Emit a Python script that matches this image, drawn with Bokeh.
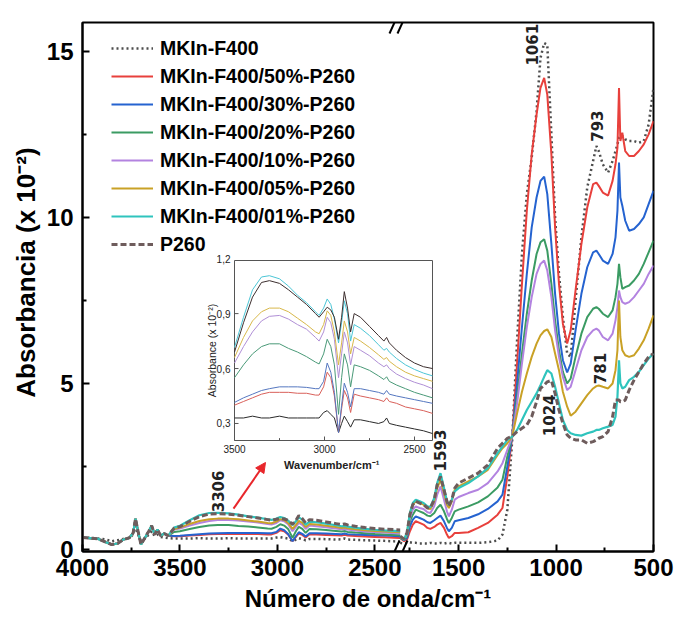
import numpy as np
from bokeh.plotting import figure
from bokeh.models import (Range1d, FixedTicker, Legend, LegendItem, Arrow,
                          NormalHead, ColumnDataSource)
from bokeh.core.properties import value
from bokeh.embed import file_html
from bokeh.resources import INLINE

# ---------------- data ----------------
series_names = ["MKIn-F400", "MKIn-F400/50%-P260", "MKIn-F400/30%-P260",
                "MKIn-F400/20%-P260", "MKIn-F400/10%-P260", "MKIn-F400/05%-P260",
                "MKIn-F400/01%-P260", "P260"]

# left segment (4000 -> 2370 cm-1)
wl = [4000, 3960, 3920, 3880, 3850, 3820, 3790, 3760, 3740, 3728, 3715, 3700, 3680,
      3660, 3645, 3630, 3615, 3600, 3580, 3560,
      3530, 3500, 3450, 3400, 3350, 3306, 3250, 3200, 3150, 3100, 3050, 3030, 3005,
      2985, 2965, 2945, 2922, 2905, 2890, 2872, 2855, 2835, 2800, 2750, 2700, 2670,
      2655, 2640, 2600, 2550, 2500, 2450, 2400, 2370]

head_f400 = [0.36, 0.35, 0.33, 0.30, 0.25, 0.28, 0.32, 0.35, 0.45, 0.70, 0.45, 0.25,
             0.33, 0.45, 0.55, 0.40, 0.45, 0.38, 0.36, 0.34]
head_mix = [0.36, 0.34, 0.32, 0.22, 0.15, 0.18, 0.30, 0.35, 0.50, 0.93, 0.55, 0.15,
            0.35, 0.55, 0.72, 0.45, 0.60, 0.42, 0.48, 0.42]

tail_f400 = [0.33, 0.33, 0.33, 0.34, 0.33, 0.33, 0.34, 0.33, 0.33, 0.33, 0.33, 0.33,
             0.36, 0.37, 0.35, 0.33, 0.25, 0.30, 0.34, 0.31, 0.28, 0.32, 0.32, 0.31,
             0.30, 0.31, 0.33, 0.30, 0.29, 0.28, 0.27, 0.26, 0.245, 0.23]
tail_50 = [0.40, 0.40, 0.42, 0.44, 0.46, 0.47, 0.47, 0.47, 0.465, 0.465, 0.455, 0.455,
           0.50, 0.58, 0.55, 0.45, 0.25, 0.38, 0.48, 0.44, 0.36, 0.46, 0.45, 0.44,
           0.43, 0.42, 0.44, 0.42, 0.41, 0.39, 0.38, 0.37, 0.355, 0.35]
tail_30 = [0.41, 0.415, 0.44, 0.46, 0.48, 0.49, 0.50, 0.50, 0.50, 0.497, 0.49, 0.49,
           0.53, 0.63, 0.58, 0.47, 0.25, 0.40, 0.52, 0.47, 0.39, 0.49, 0.49, 0.48,
           0.47, 0.46, 0.48, 0.46, 0.45, 0.44, 0.43, 0.42, 0.41, 0.40]
tail_20 = [0.53, 0.55, 0.62, 0.68, 0.72, 0.735, 0.735, 0.71, 0.69, 0.665, 0.635, 0.625,
           0.68, 0.76, 0.72, 0.62, 0.35, 0.55, 0.68, 0.62, 0.50, 0.62, 0.61, 0.59,
           0.56, 0.54, 0.555, 0.53, 0.51, 0.49, 0.47, 0.455, 0.44, 0.43]
tail_10 = [0.60, 0.63, 0.72, 0.80, 0.86, 0.885, 0.89, 0.87, 0.84, 0.815, 0.77, 0.75,
           0.80, 0.88, 0.85, 0.76, 0.55, 0.68, 0.80, 0.74, 0.62, 0.72, 0.70, 0.67,
           0.63, 0.61, 0.62, 0.60, 0.57, 0.545, 0.525, 0.51, 0.49, 0.48]
tail_05 = [0.62, 0.66, 0.77, 0.86, 0.91, 0.93, 0.93, 0.91, 0.875, 0.84, 0.80, 0.79,
           0.84, 0.915, 0.89, 0.80, 0.62, 0.74, 0.86, 0.80, 0.68, 0.77, 0.75, 0.715,
           0.675, 0.65, 0.66, 0.64, 0.61, 0.58, 0.56, 0.545, 0.53, 0.52]
tail_01 = [0.66, 0.715, 0.88, 1.03, 1.10, 1.107, 1.09, 1.05, 1.00, 0.96, 0.91, 0.89,
           0.93, 0.98, 0.95, 0.87, 0.74, 0.85, 0.97, 0.90, 0.75, 0.84, 0.82, 0.78,
           0.73, 0.70, 0.71, 0.69, 0.655, 0.62, 0.595, 0.575, 0.56, 0.55]
tail_p260 = [0.64, 0.69, 0.85, 0.99, 1.07, 1.08, 1.065, 1.03, 0.99, 0.95, 0.90, 0.88,
             0.91, 0.935, 0.92, 0.88, 0.76, 0.88, 1.02, 0.93, 0.80, 0.90, 0.88, 0.83,
             0.78, 0.75, 0.77, 0.74, 0.70, 0.66, 0.63, 0.61, 0.60, 0.59]

left_vals = [head_f400 + tail_f400, head_mix + tail_50, head_mix + tail_30,
             head_mix + tail_20, head_mix + tail_10, head_mix + tail_05,
             head_mix + tail_01, head_mix + tail_p260]

# right segment (1800 -> 500 cm-1)
wr = [1800, 1780, 1765, 1750, 1735, 1720, 1700, 1680, 1660, 1645, 1625, 1610, 1593,
      1575, 1560, 1550, 1535, 1520, 1500, 1450, 1400, 1350, 1300, 1275, 1250, 1225,
      1200, 1175, 1150, 1125, 1100, 1080, 1061, 1045, 1024, 1005, 985, 965, 943, 925,
      900, 870, 840, 810, 793, 781, 760, 733, 710, 695, 685, 677, 670, 660, 645, 625,
      600, 575, 550, 525, 500]

r_f400 = [0.2, 0.18, 0.2, 0.22, 0.2, 0.2, 0.18, 0.18, 0.18, 0.2, 0.18, 0.18, 0.2,
          0.18, 0.2, 0.2, 0.18, 0.2, 0.2, 0.2, 0.2, 0.22, 0.27, 0.45, 1.2, 3.3,
          6.3, 8.9, 10.7, 11.8, 13.2, 14.8, 15.25, 15.2, 12.5, 10.0, 8.3, 7.0, 5.9, 5.8,
          7.5, 9.4, 10.9, 11.7, 12.15, 12.0, 11.6, 11.35, 11.7, 12.0, 12.2, 12.4, 12.47,
          12.45, 12.35, 12.3, 12.3, 12.25, 12.3, 12.8, 13.9]
r_50 = [0.35, 0.25, 0.30, 0.55, 0.75, 0.85, 0.80, 0.75, 0.65, 0.62, 0.68, 0.75, 0.80,
        0.65, 0.45, 0.35, 0.40, 0.50, 0.50, 0.52, 0.65, 0.80, 1.05, 1.25, 2.2, 3.4,
        5.6, 8.0, 10.2, 11.9, 13.1, 13.9, 14.2, 13.7, 11.9, 9.7, 8.0, 6.8, 6.2, 6.6,
        7.8, 9.2, 10.3, 11.0, 11.05, 10.95, 10.75, 10.66, 11.1, 11.6, 12.1, 13.9, 12.3,
        12.55, 12.0, 11.85, 11.85, 12.0, 12.2, 12.5, 12.9]
r_30 = [0.35, 0.28, 0.35, 0.7, 0.9, 1.0, 0.95, 0.9, 0.82, 0.8, 0.88, 0.95, 1.02,
        0.85, 0.65, 0.55, 0.65, 0.85, 0.88, 0.95, 1.06, 1.22, 1.45, 1.65, 2.5, 3.4,
        5.0, 6.7, 8.3, 9.7, 10.6, 11.1, 11.23, 10.7, 9.2, 7.7, 6.5, 5.7, 5.33, 5.6,
        6.6, 7.7, 8.5, 8.95, 9.0, 8.9, 8.7, 8.6, 8.9, 9.4, 10.2, 11.65, 10.6,
        10.35, 9.9, 9.6, 9.65, 9.8, 10.0, 10.4, 10.8]
r_20 = [0.35, 0.3, 0.4, 0.85, 1.05, 1.2, 1.15, 1.1, 1.02, 1.0, 1.1, 1.25, 1.35,
        1.15, 0.92, 0.8, 0.95, 1.15, 1.2, 1.3, 1.42, 1.6, 1.87, 2.1, 2.8, 3.4,
        4.6, 5.9, 7.1, 8.1, 8.9, 9.25, 9.34, 9.0, 8.0, 6.9, 6.0, 5.35, 5.0, 5.15,
        5.8, 6.5, 7.0, 7.25, 7.3, 7.25, 7.1, 7.0, 7.2, 7.6, 8.0, 8.6, 8.2,
        7.85, 7.9, 7.95, 8.1, 8.3, 8.6, 8.95, 9.3]
r_10 = [0.38, 0.3, 0.45, 0.95, 1.2, 1.3, 1.25, 1.22, 1.12, 1.1, 1.3, 1.65, 1.9,
        1.5, 1.15, 1.0, 1.2, 1.5, 1.58, 1.7, 1.8, 2.0, 2.35, 2.6, 3.0, 3.4,
        4.4, 5.6, 6.7, 7.6, 8.3, 8.6, 8.7, 8.4, 7.6, 6.6, 5.8, 5.2, 4.8, 4.9,
        5.4, 6.0, 6.4, 6.6, 6.65, 6.6, 6.4, 6.3, 6.5, 6.9, 7.3, 7.8, 7.6,
        7.45, 7.4, 7.45, 7.6, 7.8, 8.0, 8.3, 8.55]
r_05 = [0.38, 0.3, 0.5, 1.1, 1.35, 1.45, 1.4, 1.35, 1.25, 1.22, 1.45, 1.85, 2.1,
        1.7, 1.35, 1.25, 1.45, 1.8, 1.9, 2.05, 2.2, 2.4, 2.85, 3.05, 3.2, 3.4,
        4.1, 4.75, 5.3, 5.8, 6.2, 6.45, 6.58, 6.63, 6.4, 5.9, 5.4, 4.75, 4.3, 4.03,
        4.15, 4.4, 4.65, 4.85, 4.92, 4.94, 4.9, 4.85, 5.0, 5.4, 6.0, 7.5, 6.4,
        6.0, 5.85, 5.8, 5.85, 6.05, 6.3, 6.65, 7.05]
r_01 = [0.4, 0.3, 0.5, 1.1, 1.4, 1.5, 1.45, 1.4, 1.3, 1.28, 1.55, 2.0, 2.3,
        1.85, 1.45, 1.35, 1.5, 1.75, 1.85, 2.0, 2.2, 2.45, 2.9, 3.1, 3.3, 3.4,
        3.6, 3.9, 4.2, 4.45, 4.7, 4.95, 5.2, 5.4, 5.3, 4.9, 4.4, 3.9, 3.6, 3.5,
        3.45, 3.43, 3.5, 3.55, 3.6, 3.6, 3.65, 3.7, 3.75, 4.0, 4.6, 5.7, 5.0,
        4.85, 4.9, 5.1, 5.2, 5.35, 5.55, 5.75, 5.9]
r_p260 = [0.4, 0.32, 0.5, 1.05, 1.35, 1.45, 1.4, 1.35, 1.25, 1.25, 1.5, 1.95, 2.2,
          1.8, 1.45, 1.3, 1.5, 1.85, 2.0, 2.15, 2.3, 2.55, 3.05, 3.2, 3.35, 3.42,
          3.55, 3.65, 3.75, 4.0, 4.45, 4.85, 4.95, 5.05, 5.09, 4.7, 4.2, 3.8, 3.45, 3.35,
          3.3, 3.3, 3.2, 3.25, 3.3, 3.35, 3.4, 3.55, 4.0, 4.5, 4.5, 4.5, 4.45,
          4.45, 4.5, 4.8, 5.1, 5.35, 5.6, 5.8, 5.9]
right_vals = [r_f400, r_50, r_30, r_20, r_10, r_05, r_01, r_p260]

for a, b in zip(left_vals, right_vals):
    assert len(a) == len(wl) and len(b) == len(wr), (len(a), len(b))

# axis ticks
x_major = [4000, 3500, 3000, 2500, 1500, 1000, 500]
x_minor = [3750, 3250, 2750, 1750, 1250, 750]
y_major = [0, 5, 10, 15]
y_minor = [2.5, 7.5, 12.5]

# peak annotations
ann_text = ["3306", "1593", "1024", "781", "1061", "793"]
ann_w = [3306, 1593, 1024, 781, 1061, 793]
ann_y = [1.75, 2.98, 4.04, 5.45, 15.2, 12.75]
ann_dx = [0, 0, -2, 1, -12, 1]

# inset
inset_w_range = (3500, 2400)
inset_y_range = (0.207, 1.19)
inset_x_ticks = [3500, 3000, 2500]
inset_x_minor = [3250, 2750]
inset_y_ticks = [0.3, 0.6, 0.9, 1.2]
inset_y_labels = ["0,3", "0,6", "0,9", "1,2"]

# arrow (from band label to inset)
arrow_w = (3225, 3061)
arrow_y = (1.23, 2.62)

# ---------------- styling ----------------
main_colors = ["#4d4d4d", "#e8403c", "#2563d0", "#3b9b63", "#b383e0", "#c9a126",
               "#2fc4bd", "#6e5c5c"]
inset_colors = ["#2a2a2a", "#d9605a", "#5577c0", "#4a9a78", "#b08fd6", "#d8b84a",
                "#4cc6d6", "#3d2f2f"]
FONT = "Liberation Sans"

BREAK_HI, BREAK_LO = 2370, 1800


def to_axis(w):
    w = np.asarray(w, dtype=float)
    return np.where(w >= BREAK_HI, 4000 - w, (4000 - BREAK_HI) + (BREAK_LO - w))


X_END = float(to_axis(500))
Y0, Y1 = -0.06, 15.87
W, H = 677, 621
BL, BR, BT, BB = 82, 24, 22, 70
FW, FH = W - BL - BR, H - BT - BB


def ux(px):
    return (px - BL) / FW * X_END


def vy(py):
    return Y0 + (BT + FH - py) / FH * (Y1 - Y0)


p = figure(width=W, height=H, output_backend="svg", toolbar_location=None,
           x_range=Range1d(0, X_END), y_range=Range1d(Y0, Y1),
           min_border_left=BL, min_border_right=BR, min_border_top=BT,
           min_border_bottom=BB)
p.grid.visible = False
p.outline_line_color = "black"
p.outline_line_width = 2
p.background_fill_color = "white"
p.border_fill_color = "white"

ticks = [int(v) for v in to_axis(x_major)]
p.xaxis.ticker = FixedTicker(ticks=ticks, minor_ticks=[int(v) for v in to_axis(x_minor)])
p.xaxis.major_label_overrides = {t: str(w) for t, w in zip(ticks, x_major)}
p.yaxis.ticker = FixedTicker(ticks=y_major, minor_ticks=y_minor)
for ax in (p.xaxis[0], p.yaxis[0]):
    ax.axis_line_width = 2
    ax.major_tick_in = 7
    ax.major_tick_out = 0
    ax.minor_tick_in = 4
    ax.minor_tick_out = 0
    ax.major_tick_line_width = 2
    ax.minor_tick_line_width = 2
    ax.major_label_text_font = FONT
    ax.major_label_text_font_style = "bold"
    ax.major_label_text_font_size = "24px"
    ax.major_label_text_color = "black"
    ax.axis_label_text_font = FONT
    ax.axis_label_text_font_style = "bold"
    ax.axis_label_text_color = "black"
p.xaxis.axis_label_text_font_size = "24px"
p.yaxis.axis_label_text_font_size = "26px"
p.xaxis.major_label_standoff = 7
p.yaxis.major_label_standoff = 9
p.xaxis.axis_label = "Número de onda/cm⁻¹"
# leading no-break spaces lift the title a little above the frame centre, as in the original
p.yaxis.axis_label = "\u00a0" * 4 + "Absorbancia (x 10⁻²)"
p.xaxis.axis_label_standoff = 6
p.yaxis.axis_label_standoff = 3

styles = [dict(line_dash="2 3", line_width=2.5), dict(line_width=2), dict(line_width=2),
          dict(line_width=2), dict(line_width=2), dict(line_width=2),
          dict(line_width=2.2), dict(line_dash="6 3", line_width=3)]

renderers = []
xl = to_axis(wl)
xr = to_axis(wr)
for name, lv, rv, col, st in zip(series_names, left_vals, right_vals, main_colors, styles):
    xs = np.concatenate([xl, [np.nan], xr])
    ys = np.concatenate([lv, [np.nan], rv])
    r = p.line(xs, ys, line_color=col, **st)
    renderers.append(r)

legend = Legend(items=[LegendItem(label=n, renderers=[r]) for n, r in zip(series_names, renderers)],
                location=(29, 294), padding=0, margin=0, spacing=2,
                glyph_width=42, glyph_height=26, label_height=26, label_standoff=7,
                border_line_alpha=0, background_fill_alpha=0,
                label_text_font=FONT, label_text_font_style="bold",
                label_text_font_size="19.5px", label_text_color="black")
p.add_layout(legend)

# peak labels
ann_src = ColumnDataSource(dict(x=to_axis(ann_w), y=ann_y, text=ann_text, dx=ann_dx))
p.text(x="x", y="y", text="text", x_offset="dx", source=ann_src, angle=np.pi / 2,
       text_font=value("DejaVu Sans"), text_font_style="bold", text_font_size="15px",
       text_align="center", text_baseline="middle", text_color="#222222")

# red arrow
p.add_layout(Arrow(x_start=float(to_axis(arrow_w[0])), y_start=arrow_y[0],
                   x_end=float(to_axis(arrow_w[1])), y_end=arrow_y[1],
                   line_color="#e8262b", line_width=2,
                   end=NormalHead(size=10, fill_color="#e8262b", line_color="#e8262b")))

# axis-break marks
ub = ux(398)
for yb in (Y0, Y1):
    for dx in (-4, 4):
        p.add_layout(Arrow(x_start=ub + ux(BL + dx - 5), y_start=yb - (vy(0) - vy(11)),
                           x_end=ub + ux(BL + dx + 5), y_end=yb + (vy(0) - vy(11)),
                           line_color="black", line_width=2, end=None))

# inset
sub = p.subplot(x_source=Range1d(*inset_w_range), y_source=Range1d(*inset_y_range),
                x_target=Range1d(ux(234), ux(432)), y_target=Range1d(vy(440), vy(260)))
ix0, ix1 = inset_w_range
iy0, iy1 = inset_y_range
sub.quad(left=ix0, right=ix1, bottom=iy0, top=iy1, fill_color="white",
         line_color="#555555", line_width=1)
mask = [(ix1 <= w <= ix0) for w in wl]
wl_in = [w for w, m in zip(wl, mask) if m]
for lv, col in zip(left_vals, inset_colors):
    sub.line(wl_in, [v for v, m in zip(lv, mask) if m], line_color=col, line_width=1)

xt_len = (iy1 - iy0) / 180 * 4
sub.segment(x0=inset_x_ticks, y0=iy0, x1=inset_x_ticks, y1=iy0 + xt_len,
            line_color="#555555", line_width=1)
sub.segment(x0=inset_x_minor, y0=iy0, x1=inset_x_minor, y1=iy0 + xt_len * 0.6,
            line_color="#555555", line_width=1)
yt_len = (ix0 - ix1) / 198 * 4
sub.segment(x0=ix0, y0=inset_y_ticks[:-1], x1=ix0 - yt_len, y1=inset_y_ticks[:-1],
            line_color="#555555", line_width=1)
sub.text(x=inset_x_ticks, y=[iy0] * 3, text=[str(t) for t in inset_x_ticks], y_offset=4,
         text_align="center", text_baseline="top", text_font=value(FONT),
         text_font_size="10px", text_color="#222222")
sub.text(x=[ix0] * 4, y=inset_y_ticks, text=inset_y_labels, x_offset=-4,
         text_align="right", text_baseline="middle", text_font=value(FONT),
         text_font_size="10px", text_color="#222222")
sub.text(x=[ix0], y=[(iy0 + iy1) / 2], text=["Absorbance (x 10⁻²)"], x_offset=-23,
         angle=np.pi / 2, text_align="center", text_baseline="middle",
         text_font=value(FONT), text_font_size="10.5px", text_color="#222222")
sub.text(x=[2960], y=[iy0], text=["Wavenumber/cm⁻¹"], y_offset=18,
         text_align="center", text_baseline="top", text_font=value(FONT),
         text_font_style="bold", text_font_size="11px", text_color="#222222")

open("out.html", "w").write(file_html(p, INLINE))
